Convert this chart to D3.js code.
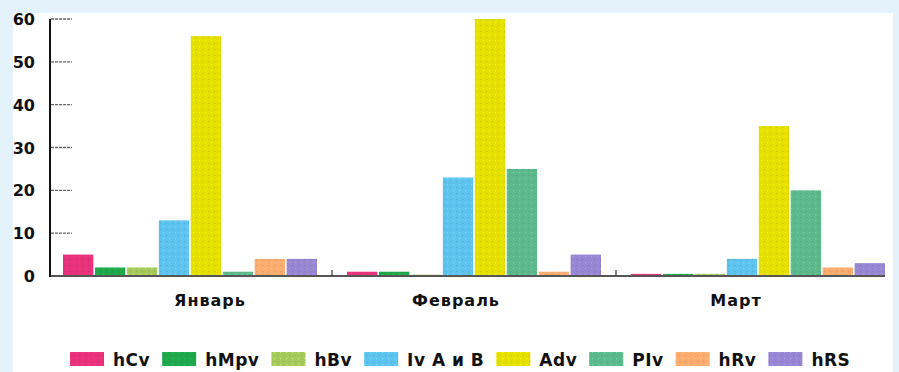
<!DOCTYPE html>
<html>
<head>
<meta charset="utf-8">
<script src="https://cdn.jsdelivr.net/npm/d3@7"></script>
<style>
  html, body { margin: 0; padding: 0; background: #e3f2fb; }
  svg { display: block; }
  text { font-family: "DejaVu Sans", "Liberation Sans", sans-serif; font-weight: bold; fill: #111; }
</style>
</head>
<body>
<svg id="chart" width="899" height="372"></svg>
<script>
// Months on the category axis
const months = ["Январь", "Февраль", "Март"];
// Virus series (legend order)
const series = ["hCv", "hMpv", "hBv", "Iv A и B", "Adv", "PIv", "hRv", "hRS"];
const seriesColors = ["#e8327c", "#1fa84b", "#a6c95b", "#5ec3ee", "#e6e000", "#5cb98c", "#fbac6e", "#9786d2"];
// Values per series, one per month
const hCv    = [5, 1, 0.5];
const hMpv   = [2, 1, 0.5];
const hBv    = [2, 0.3, 0.5];
const ivAB   = [13, 23, 4];
const adv    = [56, 60, 35];
const piv    = [1, 25, 20];
const hRv    = [4, 1, 2];
const hRS    = [4, 5, 3];
const yTicks = [0, 10, 20, 30, 40, 50, 60];

const values = [hCv, hMpv, hBv, ivAB, adv, piv, hRv, hRS];

const svg = d3.select("#chart");
const W = 899, H = 372;

// white panel on the light-blue frame
svg.append("rect").attr("x", 13).attr("y", 13).attr("width", 880).attr("height", H - 13).attr("fill", "#fff");

// dotted halftone fills for the bars
const defs = svg.append("defs");
seriesColors.forEach((c, i) => {
  const p = defs.append("pattern").attr("id", "pat" + i)
    .attr("patternUnits", "userSpaceOnUse").attr("width", 6).attr("height", 6);
  p.append("rect").attr("width", 6).attr("height", 6).attr("fill", c);
  const dark = d3.color(c).darker(0.5).formatHex();
  const light = d3.color(c).brighter(0.5).formatHex();
  p.append("rect").attr("x", 1).attr("y", 1).attr("width", 1.2).attr("height", 1.2).attr("fill", dark).attr("opacity", 0.7);
  p.append("rect").attr("x", 4).attr("y", 4).attr("width", 1.2).attr("height", 1.2).attr("fill", light).attr("opacity", 0.8);
});

const y = d3.scaleLinear().domain([0, 60]).range([276, 19]);
const x0 = d3.scaleBand().domain(months).range([63, 885]).paddingInner(30 / 284).paddingOuter(0);
const x1 = d3.scaleBand().domain(series).range([0, x0.bandwidth()]).paddingInner(0.05);

// y ticks (short grey dashes) and labels
const yAxis = svg.append("g");
yAxis.selectAll("line.tick").data(yTicks.filter(d => d > 0)).join("line")
  .attr("x1", 51).attr("x2", 72)
  .attr("y1", d => y(d)).attr("y2", d => y(d))
  .attr("stroke", "#666").attr("stroke-width", 1.3).attr("stroke-dasharray", "3,1");
yAxis.selectAll("text").data(yTicks).join("text")
  .attr("x", 35).attr("y", d => y(d) + 6)
  .attr("text-anchor", "end").attr("font-size", 16)
  .text(d => d);

// bars
const groups = svg.append("g").selectAll("g").data(months).join("g")
  .attr("transform", m => `translate(${x0(m)},0)`);
groups.selectAll("rect").data((m, mi) => series.map((s, si) => ({ s, si, v: values[si][mi] })))
  .join("rect")
  .attr("x", d => x1(d.s))
  .attr("width", x1.bandwidth())
  .attr("y", d => y(d.v))
  .attr("height", d => y(0) - y(d.v))
  .attr("fill", d => `url(#pat${d.si})`);

// baseline and y axis line
svg.append("line").attr("x1", 50).attr("x2", 885).attr("y1", y(0)).attr("y2", y(0))
  .attr("stroke", "#555").attr("stroke-width", 2);
svg.append("line").attr("x1", 50).attr("x2", 50).attr("y1", y(60)).attr("y2", y(0) + 1)
  .attr("stroke", "#111").attr("stroke-width", 2);

// small separators between month groups
months.slice(1).forEach(m => {
  const xs = x0(m) - (x0.step() - x0.bandwidth()) / 2;
  svg.append("line").attr("x1", xs).attr("x2", xs).attr("y1", y(0)).attr("y2", y(0) - 6)
    .attr("stroke", "#333").attr("stroke-width", 1.2);
});

// month labels
const monthShift = [20, -18, -22];
svg.append("g").selectAll("text").data(months).join("text")
  .attr("x", (m, i) => x0(m) + x0.bandwidth() / 2 + monthShift[i])
  .attr("y", 306)
  .attr("text-anchor", "middle").attr("font-size", 16).attr("letter-spacing", 1)
  .text(m => m);

// legend
const legend = svg.append("g");
let lx = 70;
series.forEach((s, i) => {
  legend.append("rect").attr("x", lx).attr("y", 352).attr("width", 34).attr("height", 14)
    .attr("fill", `url(#pat${i})`);
  const t = legend.append("text").attr("x", lx + 43).attr("y", 366)
    .attr("font-size", 17).attr("letter-spacing", 0.5).text(s);
  lx += 43 + t.node().getComputedTextLength() + 12;
});
</script>
</body>
</html>
